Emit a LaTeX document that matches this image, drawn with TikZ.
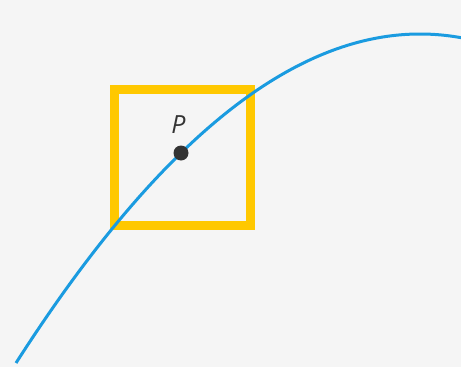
\documentclass[tikz,border=0pt]{standalone}
\usepackage{fontspec}
\setmainfont{Open Sans}
\definecolor{bg}{HTML}{F5F5F5}
\definecolor{curveblue}{HTML}{1A9BE0}
\definecolor{boxyellow}{HTML}{FFC800}
\definecolor{dotgray}{HTML}{333333}
\begin{document}
\begin{tikzpicture}[x=1pt,y=-1pt,
  curvestyle/.style={draw=curveblue,line width=3pt},
  boxstyle/.style={draw=boxyellow,line width=9pt},
  dotstyle/.style={circle,fill=dotgray,inner sep=0pt,minimum size=15pt},
  labelstyle/.style={text=dotgray,font=\fontsize{25}{30}\selectfont\itshape,inner sep=0pt}]
\fill[bg] (0,0) rectangle (461,367);
\useasboundingbox (0,0) rectangle (461,367);
\draw[boxstyle] (114.5,89.5) rectangle (250.5,225.5);
\draw[curvestyle] plot[domain=16:462,samples=150,smooth] (\x,{34+21.812*((\x-420)/100)^2+0.4096*((\x-420)/100)^3});
\node[dotstyle] (p) at (181,153) {};
\node[labelstyle] (plabel) at (178.5,125) {P};
\end{tikzpicture}
\end{document}
